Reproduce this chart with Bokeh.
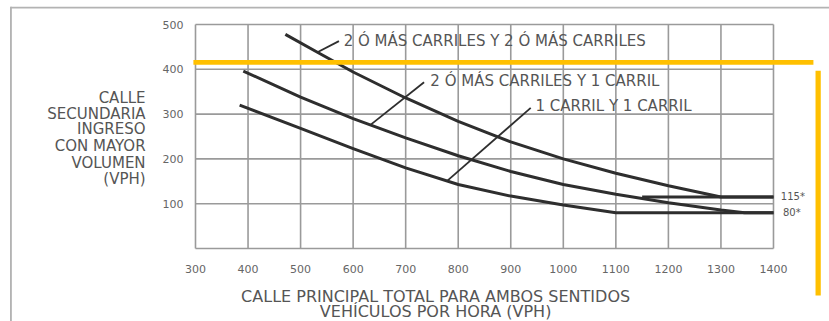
from bokeh.plotting import figure
from bokeh.models import Range1d, Label, BoxAnnotation
from bokeh.core.properties import value
from bokeh.embed import file_html
from bokeh.resources import INLINE

# ---- data ----
x_ticks = [300, 400, 500, 600, 700, 800, 900, 1000, 1100, 1200, 1300, 1400]
y_ticks = [100, 200, 300, 400, 500]
x_min, x_max = 300, 1400
y_min, y_max = 0, 500

# 2 o mas carriles y 2 o mas carriles
c1_x = [471, 532, 600, 700, 800, 900, 1000, 1100, 1200, 1300, 1400]
c1_y = [478, 438, 394, 336, 284, 238, 200, 168, 140, 115, 115]
# 2 o mas carriles y 1 carril
c2_x = [391, 500, 600, 700, 800, 900, 1000, 1100, 1200, 1300, 1345, 1400]
c2_y = [396, 338, 290, 247, 207, 172, 143, 121, 102, 86, 80, 80]
# 1 carril y 1 carril
c3_x = [384, 500, 600, 700, 800, 900, 1000, 1100, 1400]
c3_y = [320, 268, 223, 180, 143, 117, 97, 80, 80]
# threshold line 115*
t115_x = [1150, 1400]
t115_y = [115, 115]

curve_labels = ["2 Ó MÁS CARRILES Y 2 Ó MÁS CARRILES",
                "2 Ó MÁS CARRILES Y 1 CARRIL",
                "1 CARRIL Y 1 CARRIL"]
threshold_labels = ["115*", "80*"]
y_title = ["CALLE", "SECUNDARIA", "INGRESO", "CON MAYOR", "VOLUMEN", "(VPH)"]
x_title = ["CALLE PRINCIPAL TOTAL PARA AMBOS SENTIDOS", "VEHÍCULOS POR HORA (VPH)"]

FONT = "DejaVu Sans"
TXT = "#555555"
CURVE = "#2e2e2e"
GRID = "#9a9a9a"
ORANGE = "#FFC000"
BORDER = "#b3b3b3"

# the frame covers the whole canvas; ranges chosen so the chart area sits where the reference has it
p = figure(width=829, height=321, output_backend="svg", toolbar_location=None,
           x_range=Range1d(-71.1, 1506.6), y_range=Range1d(-162.9, 553.6),
           x_axis_location=None, y_axis_location=None, min_border=0)
p.outline_line_color = None
p.background_fill_color = "white"
p.border_fill_color = "white"
p.grid.visible = False

# grid lines (chart area bounded at the axis limits)
p.segment(x0=x_ticks, y0=[y_min] * len(x_ticks), x1=x_ticks, y1=[y_max] * len(x_ticks),
          line_color=GRID, line_width=1.6)
y_all = [y_min] + y_ticks
p.segment(x0=[x_min] * len(y_all), y0=y_all, x1=[x_max] * len(y_all), y1=y_all,
          line_color=GRID, line_width=1.6)

# tick labels
p.text(x=x_ticks, y=[y_min] * len(x_ticks), text=[str(t) for t in x_ticks],
       text_font=value(FONT), text_font_size="11px", text_color="#666666",
       text_align="center", text_baseline="middle", y_offset=20)
p.text(x=[x_min] * len(y_ticks), y=y_ticks, text=[str(t) for t in y_ticks],
       text_font=value(FONT), text_font_size="11px", text_color="#666666",
       text_align="right", text_baseline="middle", x_offset=-12)

for xs, ys in ((c1_x, c1_y), (c2_x, c2_y), (c3_x, c3_y), (t115_x, t115_y)):
    p.line(xs, ys, line_color=CURVE, line_width=3, line_join="round")

# leader lines (annotation)
leaders = [((532, 438), (573, 463)),
           ((633, 276), (735, 371)),
           ((779, 151), (938, 314))]
p.segment(x0=[a[0] for a, b in leaders], y0=[a[1] for a, b in leaders],
          x1=[b[0] for a, b in leaders], y1=[b[1] for a, b in leaders],
          line_color=CURVE, line_width=1.8)

lab_pos = [(582, 464), (747, 375), (947, 319)]
for t, (lx, ly) in zip(curve_labels, lab_pos):
    p.add_layout(Label(x=lx, y=ly, text=t, text_font=FONT, text_font_size="15px",
                       text_color=TXT, text_baseline="middle", text_align="left"))

for t, (lx, ly) in zip(threshold_labels, [(1414, 116), (1418, 80)]):
    p.add_layout(Label(x=lx, y=ly, text=t, text_font=FONT, text_font_size="10px",
                       text_color=TXT, text_baseline="middle", text_align="left"))

for t, ly in zip(y_title, [337, 301, 266, 228, 192, 156]):
    p.add_layout(Label(x=205, y=ly, text=t, text_font=FONT, text_font_size="15px",
                       text_color=TXT, text_baseline="middle", text_align="right"))

for t, ly in zip(x_title, [-107, -141]):
    p.add_layout(Label(x=757, y=ly, text=t, text_font=FONT, text_font_size="16px",
                       text_color=TXT, text_baseline="middle", text_align="center"))

# outer frame (gray) and orange highlight lines
p.add_layout(BoxAnnotation(left=-52, right=1510, top=539.5, bottom=536, fill_color=BORDER,
                           fill_alpha=1, line_color=None, level="overlay"))
p.add_layout(BoxAnnotation(left=-53, right=-49.5, top=539.5, bottom=-170, fill_color=BORDER,
                           fill_alpha=1, line_color=None, level="overlay"))
p.add_layout(BoxAnnotation(left=296, right=1476, top=421, bottom=410, fill_color=ORANGE,
                           fill_alpha=1, line_color=None, level="overlay"))
p.add_layout(BoxAnnotation(left=1480, right=1490, top=397, bottom=-105, fill_color=ORANGE,
                           fill_alpha=1, line_color=None, level="overlay"))

open("out.html", "w").write(file_html(p, INLINE))
